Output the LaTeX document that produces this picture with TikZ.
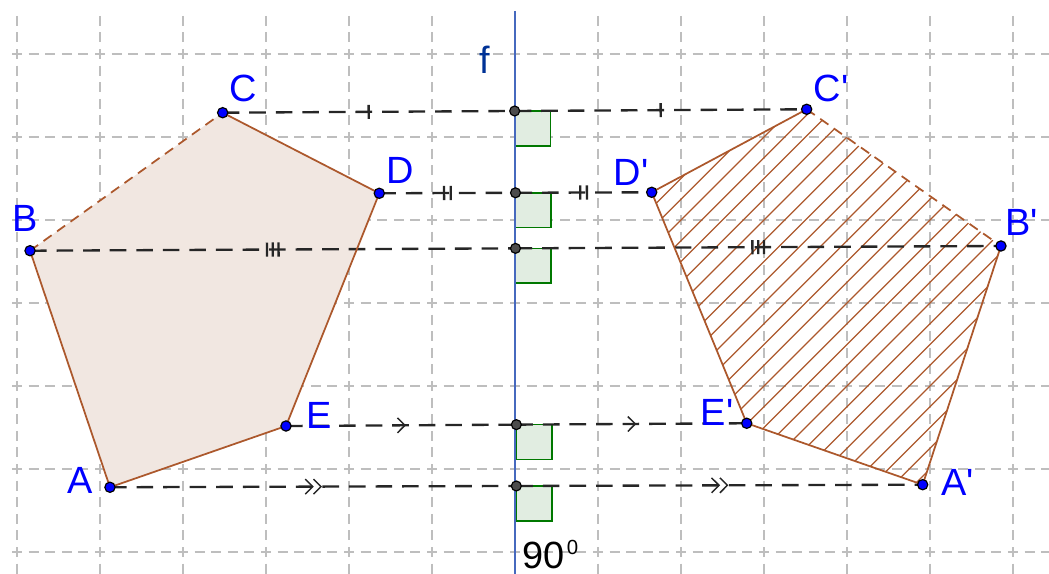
\documentclass[tikz,border=0pt]{standalone}
\usepackage{fontspec}
\setmainfont{Liberation Sans}
\usetikzlibrary{calc,decorations.markings}
\definecolor{ptblue}{RGB}{0,0,255}
\definecolor{edgebrown}{RGB}{172,88,44}
\definecolor{fillbrown}{RGB}{241,231,225}
\definecolor{axisblue}{RGB}{70,105,190}
\definecolor{fblue}{RGB}{0,50,150}
\definecolor{anglegreen}{RGB}{0,120,0}
\definecolor{anglefill}{RGB}{225,237,225}
\definecolor{gridgray}{RGB}{190,190,190}
\newcommand{\prm}{\textquotesingle}

\begin{document}
\begin{tikzpicture}[
  gridline/.style={gridgray, line width=0.4pt, dash pattern=on 0.12cm off 0.08cm, dash phase=0.14cm},
  edge/.style={edgebrown, line width=0.6pt},
  dashededge/.style={dash pattern=on 0.12cm off 0.08cm},
  hatch/.style={edgebrown, line width=0.45pt},
  mirror/.style={black!85, line width=0.8pt, dash pattern=on 0.2cm off 0.12cm},
  axis/.style={axisblue, line width=0.6pt},
  rightangle/.style={draw=anglegreen, fill=anglefill, line width=0.5pt},
  pt/.style={fill=ptblue, draw=black, line width=0.4pt},
  footpt/.style={fill=black!70, draw=black, line width=0.4pt},
  lbl/.style={ptblue, inner sep=0pt, font=\fontsize{13}{15}\selectfont},
  onetick/.style={postaction={decorate, decoration={markings,
    mark=at position 0.5 with {\draw[solid] (0,-0.085) -- (0,0.085);}}}},
  twoticks/.style={postaction={decorate, decoration={markings,
    mark=at position 0.5 with {\draw[solid] (-0.04,-0.085) -- (-0.04,0.085) (0.04,-0.085) -- (0.04,0.085);}}}},
  threeticks/.style={postaction={decorate, decoration={markings,
    mark=at position 0.5 with {\draw[solid] (-0.07,-0.085) -- (-0.07,0.085) (0,-0.085) -- (0,0.085) (0.07,-0.085) -- (0.07,0.085);}}}},
  onearrow/.style={postaction={decorate, decoration={markings,
    mark=at position 0.5 with {\draw[solid, line width=0.5pt] (-0.045,0.09) -- (0.045,0) -- (-0.045,-0.09);}}}},
  twoarrows/.style={postaction={decorate, decoration={markings,
    mark=at position 0.5 with {\draw[solid, line width=0.5pt] (-0.095,0.09) -- (-0.005,0) -- (-0.095,-0.09) (0.005,0.09) -- (0.095,0) -- (0.005,-0.09);}}}}
]
\useasboundingbox (-6.205,-0.265) rectangle (6.434,6.651);

\foreach \y in {0,...,6}
  \draw[gridline] (-6.12,\y) -- (6.434,\y);
\foreach \x in {-6,...,6}
  \draw[gridline] (\x,6.52) -- (\x,-0.265);

\coordinate (A) at (-4.880,0.780);
\coordinate (B) at (-5.843,3.630);
\coordinate (C) at (-3.522,5.293);
\coordinate (D) at (-1.635,4.322);
\coordinate (E) at (-2.759,1.518);
\coordinate (Ap) at (4.912,0.811);
\coordinate (Bp) at (5.855,3.687);
\coordinate (Cp) at (3.514,5.334);
\coordinate (Dp) at (1.647,4.334);
\coordinate (Ep) at (2.792,1.551);
\coordinate (fA) at ($(A)!0.5!(Ap)$);
\coordinate (fB) at ($(B)!0.5!(Bp)$);
\coordinate (fC) at ($(C)!0.5!(Cp)$);
\coordinate (fD) at ($(D)!0.5!(Dp)$);
\coordinate (fE) at ($(E)!0.5!(Ep)$);
\coordinate (ftop) at (0,6.52);
\coordinate (fbot) at (0,-0.265);

\fill[fillbrown] (A) -- (B) -- (C) -- (D) -- (E) -- cycle;
\begin{scope}
\clip (Ap) -- (Bp) -- (Cp) -- (Dp) -- (Ep) -- cycle;
\foreach \c in {-4.0,-3.75,...,5.3}
  \draw[hatch] (\c,0) -- ++(6,6);
\end{scope}

\foreach \p in {fA,fB,fC,fD,fE}
  \draw[rightangle] (\p) rectangle ++(0.43,-0.42);

\draw[axis] (ftop) -- (fbot);

\draw[mirror, onetick] (C) -- (fC);
\draw[mirror, onetick] (fC) -- (Cp);
\draw[mirror, twoticks] (D) -- (fD);
\draw[mirror, twoticks] (fD) -- (Dp);
\draw[mirror, threeticks] (B) -- (fB);
\draw[mirror, threeticks] (fB) -- (Bp);
\draw[mirror, onearrow] (E) -- (fE);
\draw[mirror, onearrow] (fE) -- (Ep);
\draw[mirror, twoarrows] (A) -- (fA);
\draw[mirror, twoarrows] (fA) -- (Ap);

\draw[edge] (B) -- (A) -- (E) -- (D) -- (C);
\draw[edge, dashededge] (B) -- (C);
\draw[edge] (Bp) -- (Ap) -- (Ep) -- (Dp) -- (Cp);
\draw[edge, dashededge] (Cp) -- (Bp);

\foreach \p in {fA,fB,fC,fD,fE}
  \filldraw[footpt] (\p) circle (0.06);
\foreach \p in {A,B,C,D,E,Ap,Bp,Cp,Dp,Ep}
  \filldraw[pt] (\p) circle (0.062);

\node[lbl] (lA) at (-5.241,0.867) {A};
\node[lbl] (lB) at (-5.904,4.024) {B};
\node[lbl] (lC) at (-3.277,5.590) {C};
\node[lbl] (lD) at (-1.386,4.602) {D};
\node[lbl] (lE) at (-2.361,1.651) {E};
\node[lbl] (lAp) at (5.337,0.843) {A\prm};
\node[lbl] (lBp) at (6.108,3.976) {B\prm};
\node[lbl] (lCp) at (3.807,5.590) {C\prm};
\node[lbl] (lDp) at (1.398,4.578) {D\prm};
\node[lbl] (lEp) at (2.434,1.687) {E\prm};
\node[lbl, fblue] (lf) at (-0.361,5.928) {f};
\node[inner sep=0pt, anchor=base west, font=\fontsize{13}{15}\selectfont] (angle) at (0.08,-0.193)
  {90\hspace{0.03cm}\raisebox{4.8pt}{\fontsize{7}{8}\selectfont 0}};
\end{tikzpicture}
\end{document}
